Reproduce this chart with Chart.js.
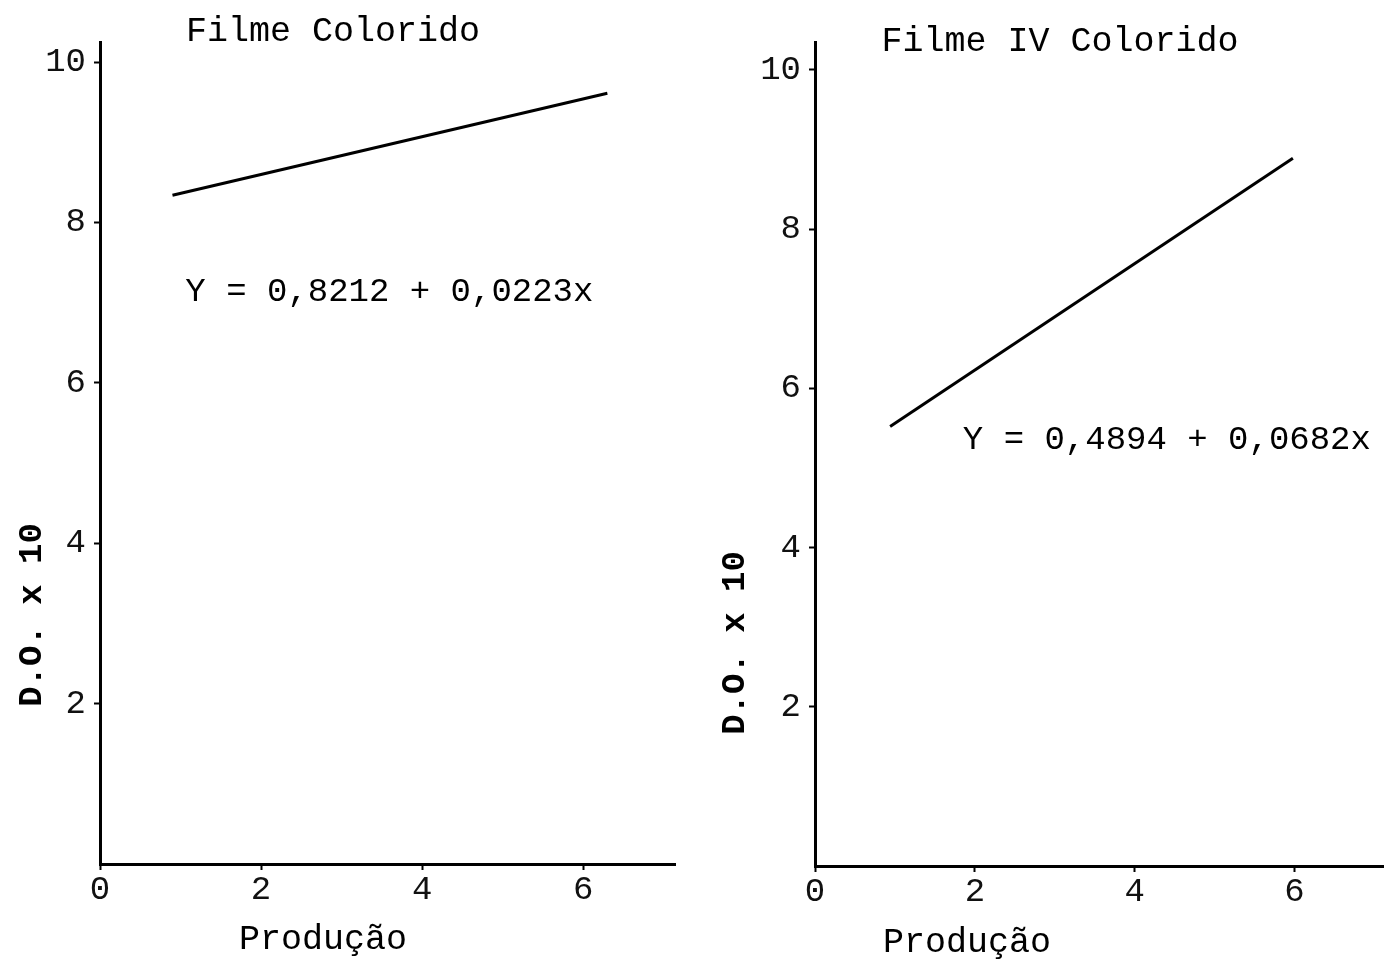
<!DOCTYPE html>
<html>
<head>
<meta charset="utf-8">
<script src="https://cdn.jsdelivr.net/npm/chart.js@4.4.1/dist/chart.umd.min.js"></script>
<style>
  html, body { margin: 0; padding: 0; background: #fff; }
  body { width: 1384px; height: 959px; position: relative; overflow: hidden; }
  .panel { position: absolute; top: 0; height: 959px; }
</style>
</head>
<body>
<div class="panel" style="left:0;width:700px"><canvas id="leftChart"></canvas></div>
<div class="panel" style="left:715px;width:669px"><canvas id="rightChart"></canvas></div>
<script>
// tick labels
const xTicks = [0, 2, 4, 6];
const yTicks = [2, 4, 6, 8, 10];

// Filme Colorido
const leftX = [0.9, 6.3];
const leftY = [8.34, 9.61];

// Filme IV Colorido
const rightX = [0.94, 5.98];
const rightY = [5.52, 8.89];

const mono = "'Liberation Mono', 'DejaVu Sans Mono', monospace";

// draws the typed texts: title, axis names and the fitted equation
const typedText = {
    id: "typedText",
    afterDraw(chart, args, opts) {
        const ctx = chart.ctx;
        const x = chart.scales.x, y = chart.scales.y;
        ctx.save();
        ctx.fillStyle = "#000";
        ctx.textBaseline = "middle";

        ctx.font = "35px " + mono;
        ctx.textAlign = "center";
        ctx.fillText(opts.title, opts.titleX, opts.titleY);
        ctx.fillText("Produção", opts.xNameX, opts.xNameY);

        ctx.font = "34px " + mono;
        ctx.textAlign = "left";
        ctx.fillText(opts.equation, x.getPixelForValue(opts.eqAt[0]), y.getPixelForValue(opts.eqAt[1]));

        ctx.translate(opts.yNameX, opts.yNameY);
        ctx.rotate(-Math.PI / 2);
        ctx.font = "bold 34px " + mono;
        ctx.textAlign = "center";
        ctx.fillText("D.O. x 10", 0, 0);
        ctx.restore();
    },
};

function makePanel(id, xs, ys, xMax, yMax, bottom, padRight, text) {
    new Chart(document.getElementById(id), {
        type: "line",
        data: {
            datasets: [
                {
                    data: xs.map((v, i) => ({ x: v, y: ys[i] })),
                    borderColor: "#000",
                    borderWidth: 3,
                    pointRadius: 0,
                    tension: 0,
                },
            ],
        },
        options: {
            responsive: true,
            maintainAspectRatio: false,
            animation: false,
            layout: { padding: { top: 42, right: padRight, left: 0, bottom: 0 } },
            plugins: {
                legend: { display: false },
                tooltip: { enabled: false },
                typedText: text,
            },
            scales: {
                x: {
                    type: "linear",
                    min: 0,
                    max: xMax,
                    afterBuildTicks: (s) => { s.ticks = xTicks.map((v) => ({ value: v })); },
                    afterFit: (s) => { s.height = bottom; },
                    border: { display: true, color: "#000", width: 3 },
                    grid: { drawOnChartArea: false, drawTicks: true, tickLength: 6, tickColor: "#000", tickWidth: 2 },
                    ticks: { color: "#111", font: { family: mono, size: 34 }, padding: 0, maxRotation: 0 },
                },
                y: {
                    type: "linear",
                    min: 0,
                    max: yMax,
                    afterBuildTicks: (s) => { s.ticks = yTicks.map((v) => ({ value: v })); },
                    afterFit: (s) => { s.width = 100; },
                    border: { display: true, color: "#000", width: 3 },
                    grid: { drawOnChartArea: false, drawTicks: true, tickLength: 6, tickColor: "#000", tickWidth: 2 },
                    ticks: { color: "#111", font: { family: mono, size: 34 }, padding: 8 },
                },
            },
        },
        plugins: [typedText],
    });
}

makePanel("leftChart", leftX, leftY, 7.14, 10.25, 95, 25, {
    title: "Filme Colorido", titleX: 333, titleY: 32,
    equation: "Y = 0,8212 + 0,0223x", eqAt: [1.06, 7.13],
    xNameX: 323, xNameY: 940,
    yNameX: 32, yNameY: 615,
});

makePanel("rightChart", rightX, rightY, 7.12, 10.35, 93, 0, {
    title: "Filme IV Colorido", titleX: 345, titleY: 42,
    equation: "Y = 0,4894 + 0,0682x", eqAt: [1.85, 5.35],
    xNameX: 252, xNameY: 943,
    yNameX: 20, yNameY: 643,
});
</script>
</body>
</html>
